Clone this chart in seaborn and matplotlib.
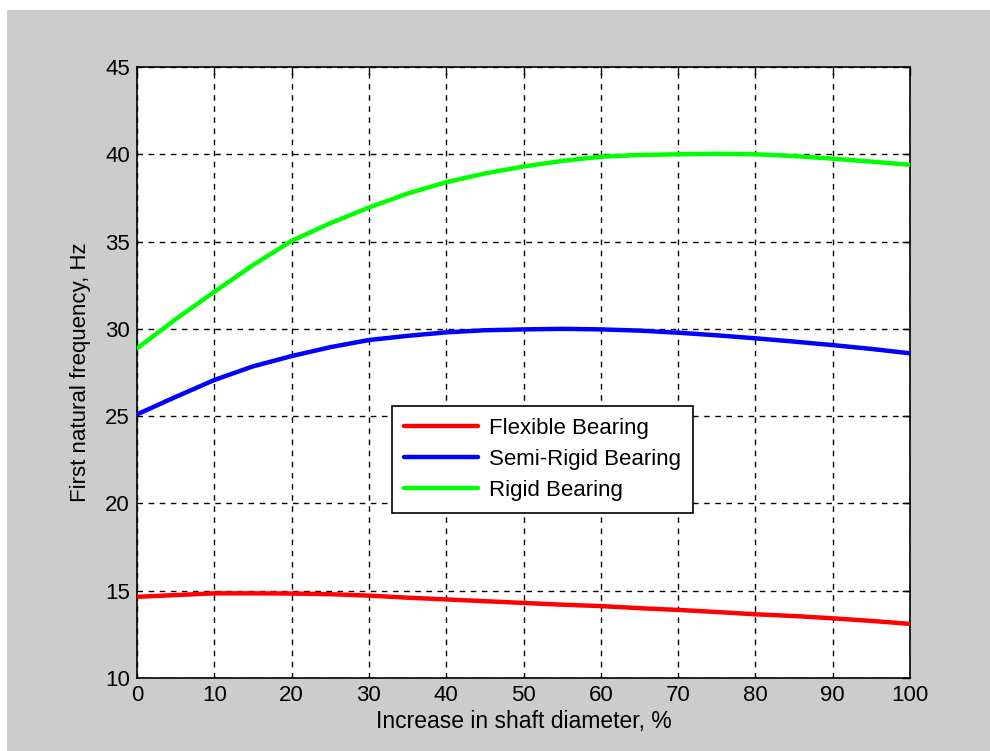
import numpy as np
import pandas as pd
import matplotlib
matplotlib.use("Agg")
import matplotlib.pyplot as plt
import matplotlib.patches as mpatches
import seaborn as sns

# data (every 5 % of diameter increase)
diameter_increase = [0, 5, 10, 15, 20, 25, 30, 35, 40, 45, 50,
                     55, 60, 65, 70, 75, 80, 85, 90, 95, 100]
flexible = [14.65, 14.75, 14.85, 14.85, 14.84, 14.8, 14.72, 14.6, 14.5, 14.4, 14.3,
            14.2, 14.12, 14.0, 13.9, 13.78, 13.65, 13.55, 13.42, 13.27, 13.1]
semi_rigid = [25.1, 26.1, 27.07, 27.85, 28.44, 28.95, 29.36, 29.6, 29.8, 29.92, 29.97,
              30.0, 29.97, 29.9, 29.78, 29.63, 29.46, 29.27, 29.07, 28.85, 28.6]
rigid = [28.88, 30.55, 32.12, 33.65, 35.04, 36.05, 36.95, 37.75, 38.4, 38.9, 39.3,
         39.62, 39.86, 39.96, 40.0, 40.03, 40.0, 39.9, 39.75, 39.58, 39.4]

series_names = ["Flexible Bearing", "Semi-Rigid Bearing", "Rigid Bearing"]
series_colors = ["#ff0000", "#0000ff", "#00ff00"]

x_ticks = list(range(0, 101, 10))
y_ticks = list(range(10, 46, 5))

df = pd.DataFrame({
    "x": diameter_increase * 3,
    "y": flexible + semi_rigid + rigid,
    "bearing": np.repeat(series_names, len(diameter_increase)),
})

sns.set_style("white")
plt.rcParams["font.family"] = ["Liberation Sans", "DejaVu Sans"]
plt.rcParams["text.color"] = "black"
plt.rcParams["axes.labelcolor"] = "black"

FS = 16

fig = plt.figure(figsize=(9.9, 7.51), dpi=100)
fig.patch.set_facecolor("white")
# grey MATLAB-style figure panel
fig.patches.append(mpatches.Rectangle((7 / 990, 0), 1 - 7 / 990, 1 - 10 / 751,
                                      transform=fig.transFigure,
                                      facecolor="#cccccc", edgecolor="none",
                                      zorder=-10))

ax = fig.add_axes([137 / 990, 1 - 678 / 751, 773 / 990, 611 / 751])
ax.set_facecolor("white")

sns.lineplot(data=df, x="x", y="y", hue="bearing", hue_order=series_names,
             palette=series_colors, linewidth=3.2, ax=ax, legend=True,
             zorder=3)

ax.set_xlim(0, 100)
ax.set_ylim(10, 45)
ax.set_xticks(x_ticks)
ax.set_yticks(y_ticks)
ax.tick_params(direction="in", length=6, width=1, top=True, right=True,
               labelsize=FS, colors="black", pad=5)
ax.grid(True, color="black", linestyle=(0, (4, 4)), linewidth=1)
ax.set_axisbelow(True)
for sp in ax.spines.values():
    sp.set_visible(True)
    sp.set_color("black")
    sp.set_linewidth(1.2)

ax.set_xlabel("Increase in shaft diameter, %", fontsize=16.5, labelpad=3)
ax.set_ylabel("First natural frequency, Hz", fontsize=FS, labelpad=10)

leg = ax.legend(loc="lower left", bbox_to_anchor=(0.33, 0.27), fontsize=FS,
                frameon=True, fancybox=False, edgecolor="black",
                framealpha=1, handlelength=3.3, handletextpad=0.5,
                borderpad=0.55, labelspacing=0.45, borderaxespad=0)
leg.get_frame().set_linewidth(1.2)
for h in leg.get_lines():
    h.set_linewidth(3.2)

fig.savefig("out.png", dpi=100)
